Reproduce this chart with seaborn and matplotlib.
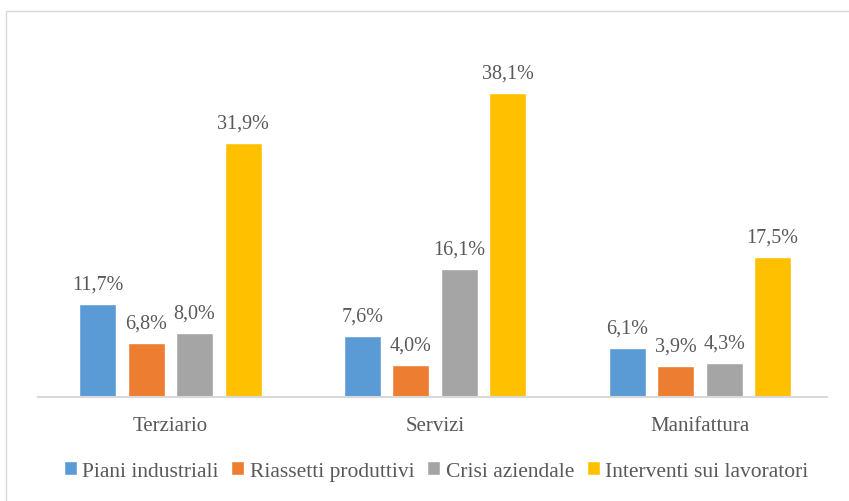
import matplotlib
matplotlib.use("Agg")
import matplotlib.pyplot as plt
import seaborn as sns
import pandas as pd
from matplotlib.patches import Rectangle

categories = ["Terziario", "Servizi", "Manifattura"]
series = ["Piani industriali", "Riassetti produttivi", "Crisi aziendale", "Interventi sui lavoratori"]
piani = [11.7, 7.6, 6.1]
riassetti = [6.8, 4.0, 3.9]
crisi = [8.0, 16.1, 4.3]
interventi = [31.9, 38.1, 17.5]
colors = ["#5B9BD5", "#ED7D31", "#A5A5A5", "#FFC000"]

rows = []
for name, vals in zip(series, [piani, riassetti, crisi, interventi]):
    for c, v in zip(categories, vals):
        rows.append({"Settore": c, "Serie": name, "Valore": v})
df = pd.DataFrame(rows)

sns.set_style("white")
plt.rcParams["font.family"] = ["Liberation Serif", "DejaVu Serif"]
txt = "#595959"

fig = plt.figure(figsize=(8.49, 5.02), dpi=100)
ax = fig.add_axes([38/849, 104/502, 789/849, 359/502])
sns.barplot(data=df, x="Settore", y="Valore", hue="Serie", order=categories,
            hue_order=series, palette=colors, width=0.732, gap=0.237,
            saturation=1, ax=ax, legend=True, errorbar=None)

for cont in ax.containers:
    ax.bar_label(cont, labels=[f"{b.get_height():.1f}%".replace(".", ",") for b in cont],
                 padding=7.5, fontsize=14.5, color=txt)

ax.set_xlim(-0.5, 2.48)
ax.set_ylim(0, 45)
ax.set_yticks([])
ax.set_xlabel("")
ax.set_ylabel("")
for s in ["top", "right", "left"]:
    ax.spines[s].set_visible(False)
ax.spines["bottom"].set_color("#D9D9D9")
ax.spines["bottom"].set_linewidth(1.5)
ax.tick_params(axis="x", length=0, pad=14, labelsize=15, colors=txt)

handles, labels = ax.get_legend_handles_labels()
ax.legend_.remove()
fig.legend(handles, labels, loc="center", bbox_to_anchor=(436/849, 1 - 472/502),
           ncol=4, frameon=False, fontsize=15.5, labelcolor=txt,
           handlelength=0.6, handleheight=0.6, handletextpad=0.25, columnspacing=0.6)

fig.patches.append(Rectangle((6/849, -0.05), 1.0, 1 - 12/502 + 0.05,
                             transform=fig.transFigure, fill=False,
                             edgecolor="#D9D9D9", linewidth=1))

fig.savefig("out.png", dpi=100)
